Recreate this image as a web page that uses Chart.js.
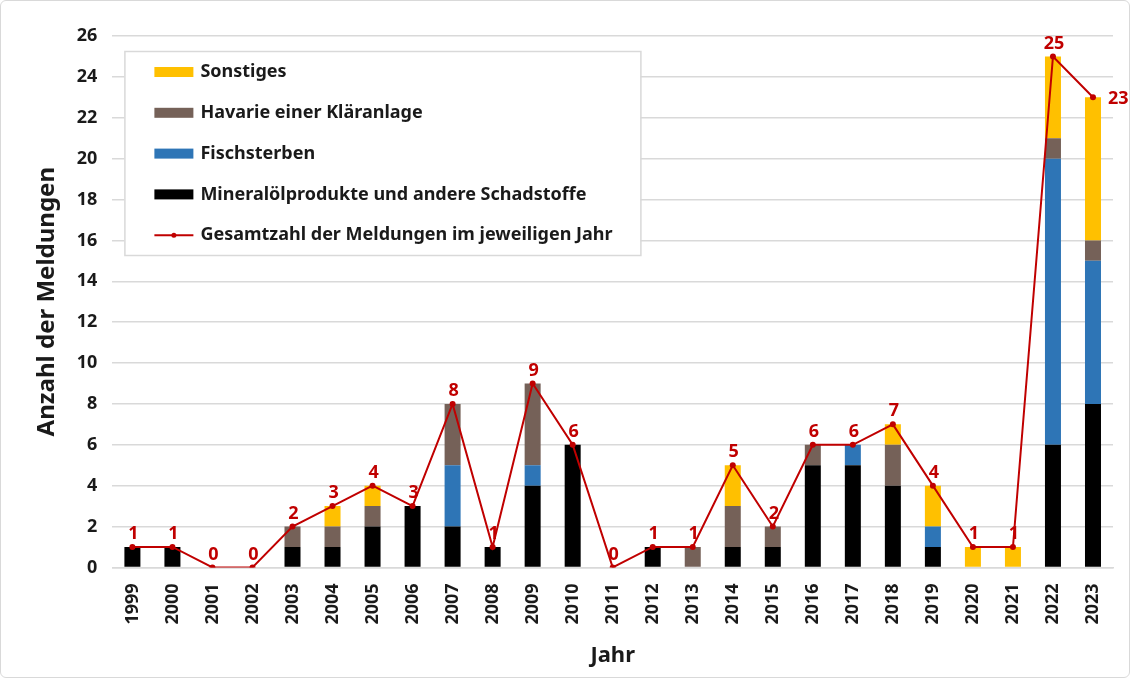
<!DOCTYPE html>
<html>
<head>
<meta charset="utf-8">
<script src="https://cdn.jsdelivr.net/npm/chart.js@4/dist/chart.umd.min.js"></script>
<style>
  html, body { margin: 0; padding: 0; background: #fff; }
  #wrap { width: 1130px; height: 678px; box-sizing: border-box; border: 1px solid #d9d9d9; border-radius: 6px; position: relative; }
  canvas { display: block; }
</style>
</head>
<body>
<div id="wrap"><canvas id="chart" width="1128" height="676"></canvas></div>
<script>
// Jahre
var years = ["1999","2000","2001","2002","2003","2004","2005","2006","2007","2008","2009","2010",
             "2011","2012","2013","2014","2015","2016","2017","2018","2019","2020","2021","2022","2023"];
// Meldungen je Kategorie
var mineraloel = [1,1,0,0,1,1,2,3,2,1,4,6,0,1,0,1,1,5,5,4,1,0,0,6,8];
var fischsterben = [0,0,0,0,0,0,0,0,3,0,1,0,0,0,0,0,0,0,1,0,1,0,0,14,7];
var havarie = [0,0,0,0,1,1,1,0,3,0,4,0,0,0,1,2,1,1,0,2,0,0,0,1,1];
var sonstiges = [0,0,0,0,0,1,1,0,0,0,0,0,0,0,0,2,0,0,0,1,2,1,1,4,7];
var gesamt = [1,1,0,0,2,3,4,3,8,1,9,6,0,1,1,5,2,6,6,7,4,1,1,25,23];
var yTicks = [0,2,4,6,8,10,12,14,16,18,20,22,24,26];

var FONT = "'Noto Sans', 'DejaVu Sans', sans-serif";
var RED = "#C00000";
var TXT = "#1a1a1a";

// Beschriftung der Gesamtzahlen
var totalLabels = {
    id: "totalLabels",
    afterDatasetsDraw: function (chart) {
        var ctx = chart.ctx;
        var meta = chart.getDatasetMeta(4);
        ctx.save();
        ctx.fillStyle = RED;
        ctx.font = "bold 18px " + FONT;
        meta.data.forEach(function (pt, i) {
            var v = gesamt[i];
            if (i === meta.data.length - 1) {
                ctx.textAlign = "left";
                ctx.textBaseline = "middle";
                ctx.fillText(v, pt.x + 15, pt.y + 2);
            } else {
                ctx.textAlign = "center";
                ctx.textBaseline = "bottom";
                ctx.fillText(v, pt.x + 1, pt.y - 4);
            }
        });
        ctx.restore();
    }
};

// Legende im Diagramm (Kasten)
var boxLegend = {
    id: "boxLegend",
    afterDraw: function (chart) {
        var ctx = chart.ctx;
        var a = chart.chartArea;
        var x0 = a.left + 12, y0 = a.top + 15, w = 516, h = 204;
        ctx.save();
        ctx.fillStyle = "#fff";
        ctx.fillRect(x0, y0, w, h);
        ctx.strokeStyle = "#d9d9d9";
        ctx.lineWidth = 1.5;
        ctx.strokeRect(x0 + 0.5, y0 + 0.5, w, h);
        var order = [3, 2, 1, 0, 4];
        ctx.font = "bold 18px " + FONT;
        ctx.textBaseline = "middle";
        ctx.textAlign = "left";
        order.forEach(function (di, k) {
            var ds = chart.data.datasets[di];
            var cy = y0 + 21 + k * 40.8;
            var sx = x0 + 30;
            if (ds.type === "line") {
                ctx.strokeStyle = ds.borderColor;
                ctx.lineWidth = 2;
                ctx.beginPath();
                ctx.moveTo(sx, cy);
                ctx.lineTo(sx + 39, cy);
                ctx.stroke();
                ctx.fillStyle = ds.borderColor;
                ctx.beginPath();
                ctx.arc(sx + 19.5, cy, 2.5, 0, Math.PI * 2);
                ctx.fill();
            } else {
                ctx.fillStyle = ds.backgroundColor;
                ctx.fillRect(sx, cy - 5, 39, 10);
            }
            ctx.fillStyle = TXT;
            ctx.fillText(ds.label, sx + 46, cy);
        });
        ctx.restore();
    }
};

var ctx = document.getElementById("chart").getContext("2d");
var chart = new Chart(ctx, {
    type: "bar",
    data: {
        labels: years,
        datasets: [
            { label: "Mineralölprodukte und andere Schadstoffe", data: mineraloel, backgroundColor: "#000000", stack: "a", order: 2 },
            { label: "Fischsterben", data: fischsterben, backgroundColor: "#2E75B6", stack: "a", order: 2 },
            { label: "Havarie einer Kläranlage", data: havarie, backgroundColor: "#756158", stack: "a", order: 2 },
            { label: "Sonstiges", data: sonstiges, backgroundColor: "#FFC000", stack: "a", order: 2 },
            {
                type: "line", label: "Gesamtzahl der Meldungen im jeweiligen Jahr", data: gesamt,
                borderColor: RED, backgroundColor: RED, borderWidth: 2, pointRadius: 3,
                pointBackgroundColor: RED, pointBorderWidth: 0, stack: "total", order: 1, tension: 0
            }
        ]
    },
    options: {
        responsive: false,
        animation: false,
        layout: { padding: { top: 35, right: 16, left: 28, bottom: 4 } },
        plugins: {
            legend: { display: false },
            tooltip: { enabled: false }
        },
        datasets: { bar: { barPercentage: 0.4, categoryPercentage: 1.0 } },
        scales: {
            x: {
                stacked: true,
                grid: { display: false },
                border: { color: "#d9d9d9", width: 1.5 },
                ticks: {
                    color: TXT, font: { family: FONT, size: 18, weight: "bold" },
                    minRotation: 90, maxRotation: 90, padding: 8
                },
                title: { display: true, text: "Jahr", color: TXT, font: { family: FONT, size: 22, weight: "bold" }, padding: { top: 10 } }
            },
            y: {
                stacked: true,
                min: 0, max: 26,
                afterBuildTicks: function (axis) { axis.ticks = yTicks.map(function (v) { return { value: v }; }); },
                grid: { color: "#d9d9d9", lineWidth: 1.5, drawTicks: false },
                border: { display: false },
                ticks: { color: TXT, font: { family: FONT, size: 18, weight: "bold" }, padding: 15 },
                title: { display: true, text: "Anzahl der Meldungen", color: TXT, font: { family: FONT, size: 24, weight: "bold" }, padding: { bottom: 0 } }
            }
        }
    },
    plugins: [totalLabels, boxLegend]
});
</script>
</body>
</html>
